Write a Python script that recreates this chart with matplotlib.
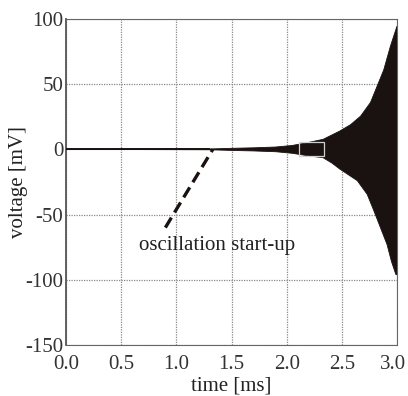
import matplotlib
matplotlib.use("Agg")
import matplotlib.pyplot as plt
from matplotlib.patches import Rectangle
from matplotlib.transforms import ScaledTranslation
import numpy as np

# envelope of the growing oscillation (time in ms, voltage in mV)
t_top = [0.0, 1.30, 1.50, 1.70, 1.90, 2.05, 2.18, 2.33, 2.48, 2.58, 2.67, 2.76, 2.82, 2.88, 2.94, 3.00]
v_top = [0.0, 0.3, 0.8, 1.2, 1.8, 3.0, 5.0, 7.7, 14.0, 19.0, 25.5, 36.0, 48.5, 61.0, 79.0, 94.5]
t_bot = [0.0, 1.30, 1.50, 1.70, 1.90, 2.05, 2.20, 2.33, 2.41, 2.48, 2.56, 2.64, 2.73, 2.79, 2.85, 2.91, 2.95, 2.99, 3.00]
v_bot = [0.0, -0.3, -0.8, -1.2, -1.8, -3.0, -5.0, -6.4, -10.5, -15.0, -19.5, -24.0, -34.5, -47.0, -60.0, -73.0, -86.0, -96.0, -96.0]

# flat trace before start-up
t_flat = [0.0, 1.30]
v_flat = [0.0, 0.0]

# zoom box and annotation
box_t = [2.11, 2.34]
box_v = [-5.4, 5.6]
note_t = [0.90, 1.33]
note_v = [-60.0, 0.0]
note_text = "oscillation start-up"
note_pos = (1.37, -74.0)

x_ticks = [0.0, 0.5, 1.0, 1.5, 2.0, 2.5, 3.0]
x_labels = ["0.0", "0.5", "1.0", "1.5", "2.0", "2.5", "3.0"]
y_ticks = [-150, -100, -50, 0, 50, 100]
y_labels = ["-150", "-100", "-50", "0", "50", "100"]

plt.rcParams["font.family"] = ["Liberation Serif", "DejaVu Serif"]
plt.rcParams["font.size"] = 15

fig = plt.figure(figsize=(4.08, 3.96), dpi=100)
ax = fig.add_axes([0.162, 0.129, 0.811, 0.823])

poly_t = np.concatenate([t_top, t_bot[::-1]])
poly_v = np.concatenate([v_top, v_bot[::-1]])
ax.fill(poly_t, poly_v, color="#1a1210", lw=0.6, zorder=3)
ax.plot(t_flat, v_flat, color="#1a1210", lw=1.4, zorder=3)

ax.add_patch(Rectangle((box_t[0], box_v[0]), box_t[1] - box_t[0], box_v[1] - box_v[0],
                       fill=False, edgecolor="#d0d0d0", lw=0.9, zorder=4))

ax.plot(note_t, note_v, color="#1a1210", lw=2.4, dashes=(3.5, 1.8), zorder=4)
ax.text(note_pos[0], note_pos[1], note_text, ha="center", va="center",
        color="#222222", zorder=5)

ax.set_xlim(0.0, 3.0)
ax.set_ylim(-150, 100)
ax.set_xticks(x_ticks)
ax.set_xticklabels(x_labels)
ax.set_yticks(y_ticks)
ax.set_yticklabels(y_labels)
ax.tick_params(length=0, colors="#333333")
ax.tick_params(axis="x", pad=7)
ax.tick_params(axis="y", pad=2)

# keep the last x label inside the picture
last = ax.get_xticklabels()[-1]
last.set_transform(last.get_transform() + ScaledTranslation(-4 / 100, 0, fig.dpi_scale_trans))

ax.grid(True, linestyle=(0, (1, 1)), color="#888888", lw=0.9)
for side in ["top", "right", "bottom"]:
    ax.spines[side].set_color("#666666")
    ax.spines[side].set_linewidth(0.8)
ax.spines["left"].set_color("#555555")
ax.spines["left"].set_linewidth(1.3)

ax.set_xlabel("time [ms]", color="#222222", labelpad=2)
ax.set_ylabel("voltage [mV]", color="#222222", labelpad=-2)

fig.savefig("out.png", dpi=100)
